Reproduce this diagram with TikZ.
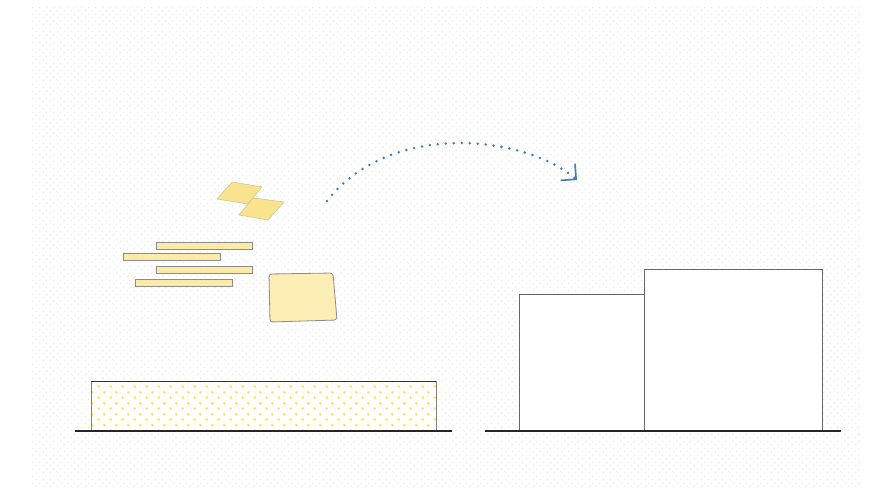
\documentclass[tikz,border=0pt]{standalone}
\usepackage{tikz}
\usetikzlibrary{patterns,arrows.meta}

\definecolor{tapeyellow}{HTML}{FCEBA8}
\definecolor{flakeyellow}{HTML}{FAE38E}
\definecolor{dotyellow}{HTML}{FFDD55}
\definecolor{arcblue}{HTML}{3D7DBA}
\definecolor{edgegray}{HTML}{8C8C8C}

\pgfdeclarepatternformonly{bgdots}{\pgfpointorigin}{\pgfpoint{7pt}{7pt}}{\pgfpoint{7pt}{7pt}}{
  \pgfpathcircle{\pgfpoint{1.75pt}{1.75pt}}{1pt}
  \pgfpathcircle{\pgfpoint{5.25pt}{5.25pt}}{1pt}
  \pgfusepath{fill}
}
\pgfdeclarepatternformonly{yellowdots}{\pgfpointorigin}{\pgfpoint{12pt}{11pt}}{\pgfpoint{12pt}{11pt}}{
  \pgfpathcircle{\pgfpoint{3pt}{2.75pt}}{1.5pt}
  \pgfpathcircle{\pgfpoint{9pt}{8.25pt}}{1.5pt}
  \pgfusepath{fill}
}

\begin{document}
\begin{tikzpicture}[x=1pt,y=-1pt,
  piece/.style={fill=tapeyellow, draw=edgegray, line width=0.8pt},
  flake/.style={fill=flakeyellow, draw=flakeyellow!70!gray, line width=0.6pt},
  block/.style={fill=white, draw=gray!80!black, line width=1pt},
  ground/.style={draw=black!85, line width=1.2pt}]
\useasboundingbox (0,0) rectangle (877,487);

% Background
\fill[white] (0,0) rectangle (877,487);
\fill[pattern=bgdots, pattern color=gray!14] (31,8) rectangle (862,487);

% Loose pieces
\filldraw[flake] (217,199) -- (232,182) -- (262,187) -- (248,204) -- cycle;
\filldraw[flake] (239,215) -- (253,198) -- (284,202) -- (268,220) -- cycle;
\filldraw[piece] (156,242) rectangle (252,249);
\filldraw[piece] (123,253) rectangle (220,260);
\filldraw[piece] (156,266) rectangle (252,273);
\filldraw[piece] (135,279) rectangle (232,286);
\filldraw[piece, fill=tapeyellow!85, rounded corners=3pt]
  (269,274) -- (333,273) -- (337,320) -- (270,322) -- cycle;

% Packed layer
\fill[white] (91,381) rectangle (436,431);
\fill[pattern=yellowdots, pattern color=dotyellow] (91,381) rectangle (436,431);
\draw[gray, line width=1pt] (91,431) -- (91,381);
\draw[gray, line width=1pt] (436,431) -- (436,381);
\draw[black!80, line width=1pt] (91,381) -- (436,381);
\draw[ground] (75,431) -- (452,431);

% Result blocks
\filldraw[block] (519,294) rectangle (644,431);
\filldraw[block] (644,269) rectangle (822,431);
\draw[ground] (485,431) -- (841,431);

% Arrow
\coordinate (arcstart) at (327,201);
\coordinate (arcend) at (577,180);
\draw[arcblue, line width=2.8pt, line cap=round, dash pattern=on 0pt off 8pt,
  -{Straight Barb[length=11pt, width=22pt, line width=1.6pt]}]
  (arcstart) .. controls (390,120) and (525,135) .. (arcend);
\end{tikzpicture}
\end{document}
